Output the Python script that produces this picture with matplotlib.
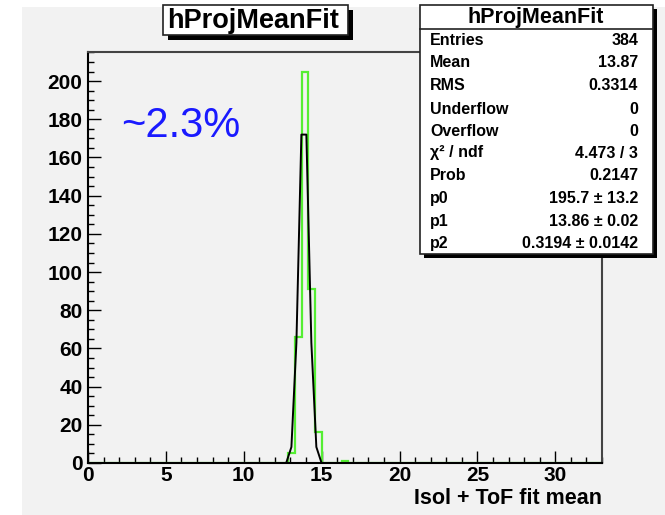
import numpy as np
import matplotlib
matplotlib.use("Agg")
import matplotlib.pyplot as plt
from matplotlib.patches import Rectangle
from matplotlib.ticker import MultipleLocator

# ---- data ----
x_min, x_max, n_bins = 0.0, 33.0, 77
bin_index = [30, 31, 32, 33, 34, 38]
bin_counts = [5, 66, 205, 91, 16, 1]

fit_x = [12.74, 13.06, 13.38, 13.70, 14.02, 14.34, 14.66, 14.98]
fit_y = [0.4, 8.4, 63, 172, 172, 63, 8.4, 0.4]

title = "hProjMeanFit"
xlabel = "Isol + ToF fit mean"
annotation = "~2.3%"
stat_labels = ["Entries", "Mean", "RMS", "Underflow", "Overflow",
               "χ² / ndf", "Prob", "p0", "p1", "p2"]
stat_values = ["384", "13.87", "0.3314", "0", "0", "4.473 / 3", "0.2147",
               "195.7 ± 13.2", "13.86 ± 0.02", "0.3194 ± 0.0142"]
x_ticks = [0, 5, 10, 15, 20, 25, 30]
y_ticks = [0, 20, 40, 60, 80, 100, 120, 140, 160, 180, 200]

FONT = ["Liberation Sans", "DejaVu Sans"]
plt.rcParams['font.family'] = FONT

W, H = 665, 515
fig = plt.figure(figsize=(W / 100, H / 100), dpi=100)
fig.patch.set_facecolor("white")

def fx(px):
    return px / W

def fy(py):
    return 1 - py / H

# canvas gray pad
fig.patches.append(Rectangle((fx(22), 0), 1 - fx(22), fy(7), transform=fig.transFigure,
                             facecolor="#f2f2f2", edgecolor="none", zorder=-5))

ax = fig.add_axes([fx(88), fy(463), fx(602) - fx(88), fy(52) - fy(463)])
ax.set_facecolor("#f2f2f2")

edges = np.linspace(x_min, x_max, n_bins + 1)
counts = np.zeros(n_bins)
for i, c in zip(bin_index, bin_counts):
    counts[i] = c
ax.stairs(counts, edges, color="#55ee33", linewidth=1.6, zorder=2)
ax.plot(fit_x, fit_y, color="black", linewidth=1.4, zorder=3)

ax.set_xlim(x_min, x_max)
ax.set_ylim(0, max(bin_counts) * 1.05)
ax.set_xticks(x_ticks)
ax.set_yticks(y_ticks)
ax.xaxis.set_minor_locator(MultipleLocator(1))
ax.yaxis.set_minor_locator(MultipleLocator(5))
ax.tick_params(which="both", direction="in", top=False, right=False, width=1.0, color="black")
ax.tick_params(which="major", length=9, labelsize=15)
ax.tick_params(axis="x", which="major", pad=2)
ax.tick_params(axis="y", which="major", pad=4)
ax.tick_params(which="minor", length=4.5)
for lab in ax.get_xticklabels() + ax.get_yticklabels():
    lab.set_fontweight("bold")
for s in ["left", "bottom"]:
    ax.spines[s].set_linewidth(1.5)
    ax.spines[s].set_color("black")
for s in ["top", "right"]:
    ax.spines[s].set_linewidth(1.5)
    ax.spines[s].set_color("#444444")

fig.text(fx(602), fy(487.5), xlabel, ha="right", va="top", fontsize=15.5,
         fontweight="bold")

ax.text(0.065, 0.82, annotation, transform=ax.transAxes, fontsize=30,
        color="#1a1aff", ha="left", va="center")

# boxes with shadow
def shadow_box(x0, y0, x1, y1, sh=5):
    fig.patches.append(Rectangle((fx(x0 + sh), fy(y1 + sh)), fx(x1 - x0), fy(y0) - fy(y1),
                                 transform=fig.transFigure, facecolor="black",
                                 edgecolor="none", zorder=5))
    fig.patches.append(Rectangle((fx(x0), fy(y1)), fx(x1 - x0), fy(y0) - fy(y1),
                                 transform=fig.transFigure, facecolor="white",
                                 edgecolor="#222222", linewidth=1.2, zorder=6))

shadow_box(163, 5, 348, 35)
fig.text(fx(253), fy(20.5), title, ha="center", va="center", fontsize=19.5,
         fontweight="bold", zorder=7)

# stats box
shadow_box(420, 5, 653, 254, sh=4)
fig.add_artist(plt.Line2D([fx(420), fx(653)], [fy(29), fy(29)], color="#222222",
                          linewidth=1.2, zorder=7))
fig.text(fx(536), fy(17), title, ha="center", va="center", fontsize=15.5,
         fontweight="bold", zorder=7)
row_y = [40.7, 62.5, 86, 109, 131, 153, 175.5, 198.5, 221.5, 243.5]
for ry, lab, val in zip(row_y, stat_labels, stat_values):
    fig.text(fx(430), fy(ry), lab, ha="left", va="center", fontsize=11.5,
             fontweight="bold", zorder=7)
    fig.text(fx(638), fy(ry), val, ha="right", va="center", fontsize=11.5,
             fontweight="bold", zorder=7)

fig.savefig("out.png", dpi=100)
